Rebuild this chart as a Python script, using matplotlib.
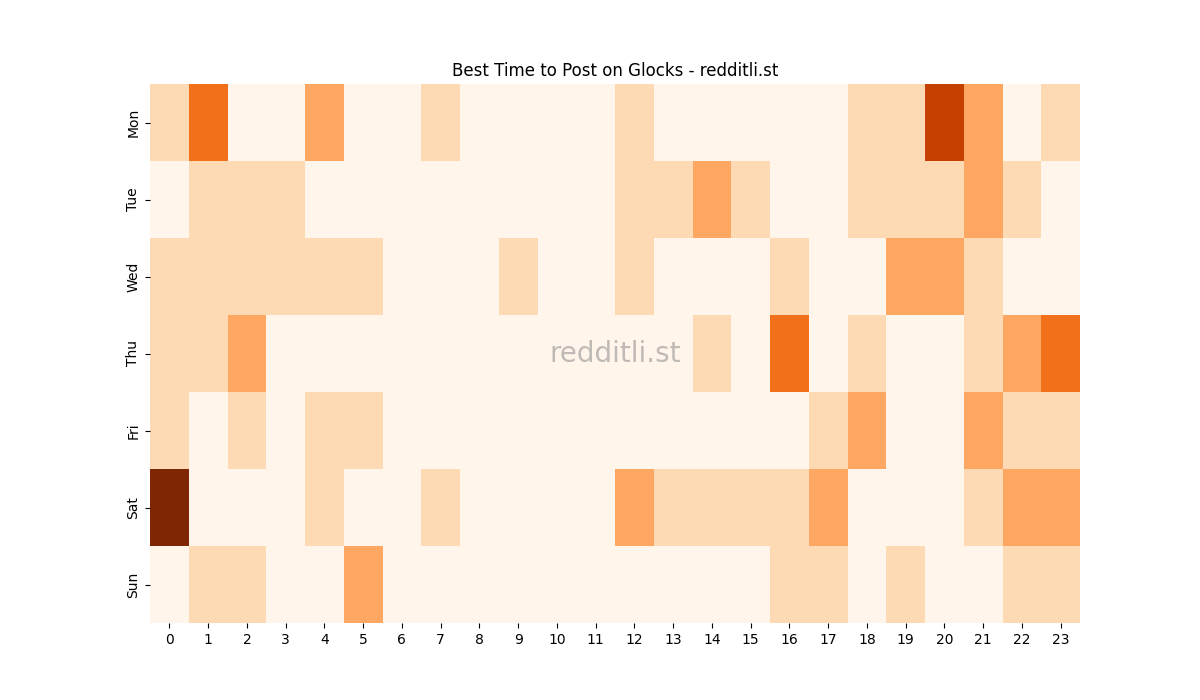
import numpy as np
import pandas as pd
import seaborn as sns
from matplotlib import pyplot as plt

days = ['Mon', 'Tue', 'Wed', 'Thu', 'Fri', 'Sat', 'Sun']
hours = list(range(24))

mon = [1, 3, 0, 0, 2, 0, 0, 1, 0, 0, 0, 0, 1, 0, 0, 0, 0, 0, 1, 1, 4, 2, 0, 1]
tue = [0, 1, 1, 1, 0, 0, 0, 0, 0, 0, 0, 0, 1, 1, 2, 1, 0, 0, 1, 1, 1, 2, 1, 0]
wed = [1, 1, 1, 1, 1, 1, 0, 0, 0, 1, 0, 0, 1, 0, 0, 0, 1, 0, 0, 2, 2, 1, 0, 0]
thu = [1, 1, 2, 0, 0, 0, 0, 0, 0, 0, 0, 0, 0, 0, 1, 0, 3, 0, 1, 0, 0, 1, 2, 3]
fri = [1, 0, 1, 0, 1, 1, 0, 0, 0, 0, 0, 0, 0, 0, 0, 0, 0, 1, 2, 0, 0, 2, 1, 1]
sat = [5, 0, 0, 0, 1, 0, 0, 1, 0, 0, 0, 0, 2, 1, 1, 1, 1, 2, 0, 0, 0, 1, 2, 2]
sun = [0, 1, 1, 0, 0, 2, 0, 0, 0, 0, 0, 0, 0, 0, 0, 0, 1, 1, 0, 1, 0, 0, 1, 1]

df = pd.DataFrame([mon, tue, wed, thu, fri, sat, sun], index=days, columns=hours)

fig, ax = plt.subplots(figsize=(12, 7), dpi=100)
sns.heatmap(df, cmap='Oranges', cbar=False, ax=ax)
ax.set_title('Best Time to Post on Glocks - redditli.st')
ax.set_xlabel('')
ax.set_ylabel('')
plt.setp(ax.get_xticklabels(), rotation=0)
plt.setp(ax.get_yticklabels(), rotation=90, va='center')

# marca d'aigua
ax.text(0.5, 0.5, 'redditli.st', transform=ax.transAxes, fontsize=20,
        color='gray', alpha=0.5, ha='center', va='center')

plt.savefig('out.png')
